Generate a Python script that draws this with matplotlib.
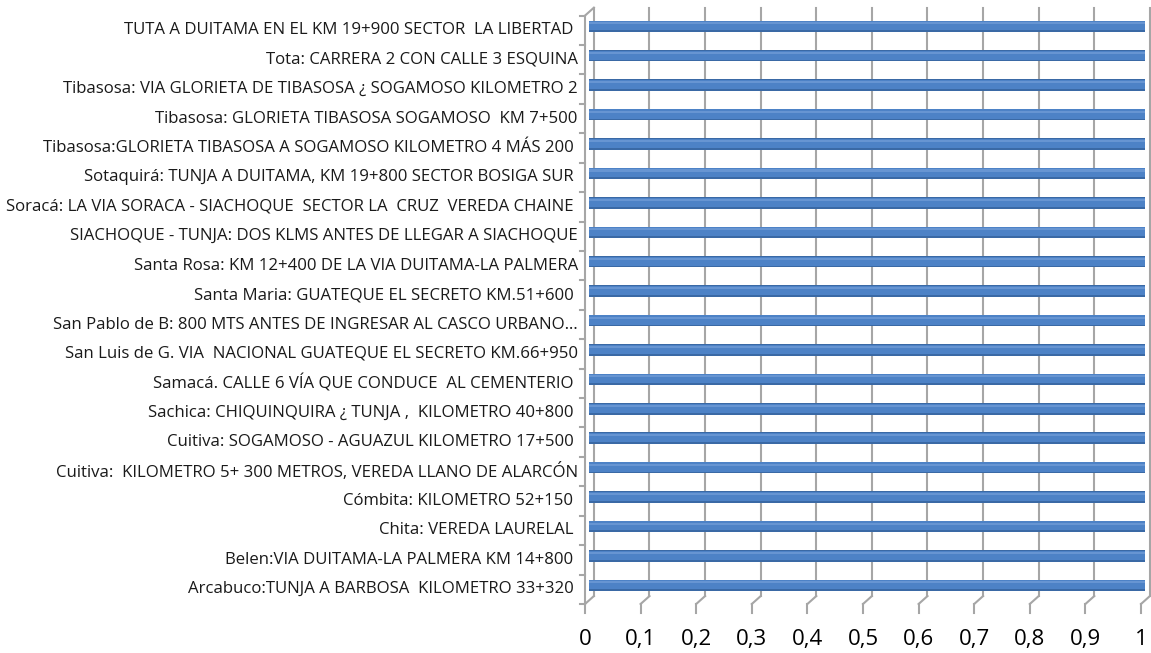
import matplotlib.pyplot as plt
import numpy as np

# categorias (de abajo hacia arriba, como en el grafico)
lugares = [
    "Arcabuco:TUNJA A BARBOSA  KILOMETRO 33+320 ",
    "Belen:VIA DUITAMA-LA PALMERA KM 14+800 ",
    "Chita: VEREDA LAURELAL ",
    "Cómbita: KILOMETRO 52+150 ",
    "Cuitiva:  KILOMETRO 5+ 300 METROS, VEREDA LLANO DE ALARCÓN",
    "Cuitiva: SOGAMOSO - AGUAZUL KILOMETRO 17+500 ",
    "Sachica: CHIQUINQUIRA ¿ TUNJA ,  KILOMETRO 40+800 ",
    "Samacá. CALLE 6 VÍA QUE CONDUCE  AL CEMENTERIO ",
    "San Luis de G. VIA  NACIONAL GUATEQUE EL SECRETO KM.66+950",
    "San Pablo de B: 800 MTS ANTES DE INGRESAR AL CASCO URBANO…",
    "Santa Maria: GUATEQUE EL SECRETO KM.51+600 ",
    "Santa Rosa: KM 12+400 DE LA VIA DUITAMA-LA PALMERA",
    "SIACHOQUE - TUNJA: DOS KLMS ANTES DE LLEGAR A SIACHOQUE",
    "Soracá: LA VIA SORACA - SIACHOQUE  SECTOR LA  CRUZ  VEREDA CHAINE ",
    "Sotaquirá: TUNJA A DUITAMA, KM 19+800 SECTOR BOSIGA SUR ",
    "Tibasosa:GLORIETA TIBASOSA A SOGAMOSO KILOMETRO 4 MÁS 200 ",
    "Tibasosa: GLORIETA TIBASOSA SOGAMOSO  KM 7+500",
    "Tibasosa: VIA GLORIETA DE TIBASOSA ¿ SOGAMOSO KILOMETRO 2",
    "Tota: CARRERA 2 CON CALLE 3 ESQUINA",
    "TUTA A DUITAMA EN EL KM 19+900 SECTOR  LA LIBERTAD ",
]
valores = [1] * 20
ticks_x = [0, 0.1, 0.2, 0.3, 0.4, 0.5, 0.6, 0.7, 0.8, 0.9, 1]
etiquetas_x = ["0", "0,1", "0,2", "0,3", "0,4", "0,5", "0,6", "0,7", "0,8", "0,9", "1"]

plt.rcParams['font.family'] = ['Open Sans', 'DejaVu Sans']

W, H = 1151, 653
fig = plt.figure(figsize=(W / 100, H / 100), dpi=100)
# eje: x=0 -> 585px, x=1 -> 1141px ; y=-0.5 -> 604px, y=19.5 -> 15.6px
ax = fig.add_axes([585 / W, (H - 604) / H, 556 / W, (604 - 15.6) / H])
ax.set_xlim(0, 1)
ax.set_ylim(-0.5, 19.5)
for s in ax.spines.values():
    s.set_visible(False)
ax.set_xticks([])
ax.set_yticks([])

n = len(lugares)
y = np.arange(n)
dx = 0.016   # desplazamiento 3D
dy = 0.27
gris = '#a6a6a6'

# pared del fondo: lineas de cuadricula
for t in ticks_x:
    ax.plot([t + dx, t + dx], [-0.5 + dy, n - 0.5 + dy], color=gris, lw=1.5, clip_on=False, zorder=1)
    ax.plot([t, t + dx], [-0.5, -0.5 + dy], color=gris, lw=1.5, clip_on=False, zorder=1)
    ax.plot([t, t], [-0.5, -0.5 - 0.3], color=gris, lw=1.5, clip_on=False, zorder=1)

# pared izquierda
ax.plot([0, 0], [-0.5, n - 0.5], color=gris, lw=1.5, clip_on=False, zorder=1)
ax.plot([0, dx], [n - 0.5, n - 0.5 + dy], color=gris, lw=1.5, clip_on=False, zorder=1)
for b in np.arange(-0.5, n, 1.0):
    ax.plot([-0.009, 0], [b, b], color=gris, lw=1.5, clip_on=False, zorder=1)

# barras con efecto de cilindro
yb = y + dy / 2
izq = dx / 2
ax.barh(yb, valores, left=izq, height=0.39, color='#3a69a5', zorder=3, clip_on=False)
ax.barh(yb + 0.02, valores, left=izq, height=0.31, color='#4d82c6', zorder=4, clip_on=False)
ax.barh(yb + 0.10, valores, left=izq, height=0.07, color='#6795d2', zorder=5, clip_on=False)

# etiquetas
for yi, lab in zip(y, lugares):
    ax.text(-0.013, yi, lab, ha='right', va='center', fontsize=12.1, color='#1a1a1a')

for t, lab in zip(ticks_x, etiquetas_x):
    ax.text(t, -1.72, lab, ha='center', va='center', fontsize=16, color='#000000')

fig.savefig('out.png', dpi=100, facecolor='white')
